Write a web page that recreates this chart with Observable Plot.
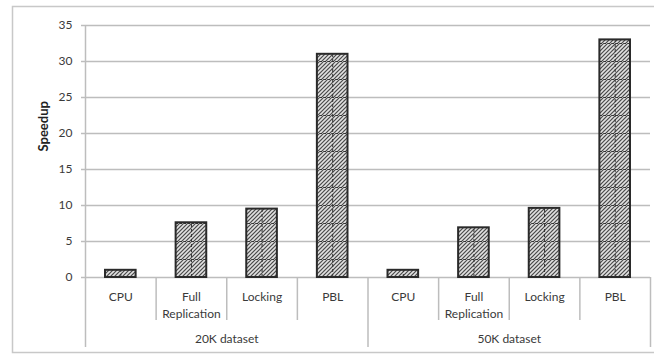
<!DOCTYPE html>
<html>
<head>
<meta charset="utf-8">
<script src="https://cdn.jsdelivr.net/npm/d3@7"></script>
<script src="https://cdn.jsdelivr.net/npm/@observablehq/plot@0.6"></script>
<style>
  html, body { margin: 0; padding: 0; background: #fff; }
  #chart { position: relative; width: 654px; height: 354px; }
</style>
</head>
<body>
<svg width="0" height="0" style="position:absolute">
  <defs>
    <pattern id="hatch" patternUnits="userSpaceOnUse" width="4" height="18" x="0" y="7">
      <rect width="4" height="18" fill="#e2e2e2"></rect>
      <path d="M-1,1 l2,-2 M0,4 l4,-4 M3,5 l2,-2 M-1,5 l2,-2 M0,8 l4,-4 M3,9 l2,-2 M-1,9 l2,-2 M0,12 l4,-4 M3,13 l2,-2 M-1,13 l2,-2 M0,16 l4,-4 M3,17 l2,-2 M-1,17 l2,-2 M0,20 l4,-4" stroke="#4a4a4a" stroke-width="1.1"></path>
      <line x1="0" y1="0.5" x2="4" y2="0.5" stroke="#333" stroke-width="1" stroke-dasharray="2,2"></line>
    </pattern>
  </defs>
</svg>
<div id="chart"></div>
<script>
const datasets = ["20K dataset", "50K dataset"];
const methods = ["CPU", "Full Replication", "Locking", "PBL"];
const methodLabels = ["CPU", "Full\nReplication", "Locking", "PBL"];
const speedup20K = [1.0, 7.6, 9.5, 31.0];
const speedup50K = [1.0, 6.9, 9.6, 33.0];
const yTicks = [0, 5, 10, 15, 20, 25, 30, 35];

const series = [speedup20K, speedup50K];
const rows = [];
datasets.forEach((ds, g) => {
  methods.forEach((m, k) => {
    const i = g * methods.length + k;
    rows.push({dataset: ds, method: m, label: methodLabels[k], idx: i, value: series[g][k]});
  });
});
const nCats = rows.length;
const catBounds = d3.range(0, nCats + 1).filter(i => i % methods.length !== 0);
const groupBounds = d3.range(0, nCats + 1, methods.length);
const groups = datasets.map((ds, g) => ({dataset: ds, mid: g * methods.length + methods.length / 2}));

const font = "Lato, 'Open Sans', sans-serif";
const grid = "#bdbdbd";
const ink = "#3a3a3a";

const chart = Plot.plot({
  width: 654,
  height: 354,
  marginLeft: 85,
  marginRight: 4,
  marginTop: 25,
  marginBottom: 77,
  style: {fontFamily: font, fontSize: "12px", color: ink, background: "#fff"},
  x: {type: "linear", domain: [0, nCats], axis: null},
  y: {domain: [0, 35], axis: null},
  marks: [
    Plot.ruleY(yTicks, {stroke: grid, strokeWidth: 1.5, x1: 0, x2: nCats}),
    Plot.axisY({ticks: yTicks, tickSize: 4, tickPadding: 9, stroke: grid, strokeWidth: 1.5, fill: ink, fontSize: 12, label: null}),
    Plot.ruleX([0], {y1: 0, y2: 35, stroke: grid, strokeWidth: 1.5}),
    Plot.axisX({ticks: catBounds, tickSize: 43, tickFormat: () => "", stroke: grid, strokeWidth: 1.5, label: null}),
    Plot.axisX({ticks: groupBounds, tickSize: 70, tickFormat: () => "", stroke: grid, strokeWidth: 1.5, label: null}),
    Plot.rectY(rows, {x1: "idx", x2: d => d.idx + 1, y: "value", insetLeft: 20, insetRight: 20,
      fill: "url(#hatch)", stroke: "#2a2a2a", strokeWidth: 2}),
    Plot.ruleX(rows, {x: d => d.idx + 0.5, y1: 0, y2: "value", stroke: "#333", strokeWidth: 1, strokeDasharray: "3,2"}),
    Plot.text(rows, {x: d => d.idx + 0.5, y: 0, text: "label", lineAnchor: "top", dy: 12, lineHeight: 1.4, fontSize: 12, fill: ink}),
    Plot.text(groups, {x: "mid", y: 0, text: "dataset", lineAnchor: "middle", dy: 62, fontSize: 12, fill: ink}),
    Plot.text(["Speedup"], {frameAnchor: "left", dx: -42, rotate: -90, fontWeight: "bold", fontSize: 13, fill: "#222"})
  ]
});

d3.select(chart).insert("rect", ":first-child")
  .attr("x", 12.5).attr("y", 6.5).attr("width", 660).attr("height", 346)
  .attr("fill", "none").attr("stroke", "#c8c8c8").attr("stroke-width", 1.5);

document.getElementById("chart").appendChild(chart);
</script>
</body>
</html>
